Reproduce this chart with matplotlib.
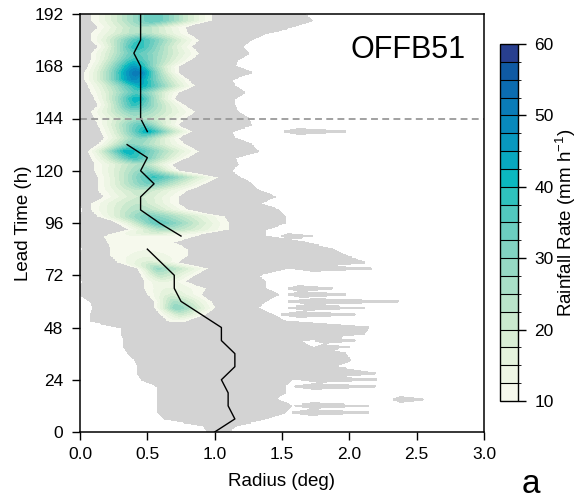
import numpy as np
import matplotlib
matplotlib.use("Agg")
import matplotlib.pyplot as plt
from matplotlib.colors import ListedColormap, BoundaryNorm
from matplotlib.cm import ScalarMappable

plt.rcParams['font.family'] = ['Liberation Sans', 'DejaVu Sans']
plt.rcParams['mathtext.fontset'] = 'custom'
plt.rcParams['mathtext.rm'] = 'Liberation Sans'
plt.rcParams['mathtext.default'] = 'regular'

# ---- light rain (gray) area, every 3 h from 0 to 192 h, radius in deg
hours = np.arange(0, 193, 3)
gray_in = [0.95, 0.92, 0.63, 0.58, 0.58, 0.58, 0.58, 0.58,
           0.46, 0.43, 0.43, 0.41, 0.36, 0.33, 0.33, 0.31,
           0.31, 0.08, 0.08, 0.10, 0.08, 0.00, 0.00, 0.02,
           0.00, 0.00, 0.00, 0.00, 0.02, 0.00, 0.00, 0.00,
           0.00, 0.00, 0.03, 0.00, 0.00, 0.00, 0.00, 0.00,
           0.00, 0.00, 0.00, 0.00, 0.00, 0.00, 0.00, 0.00,
           0.00, 0.00, 0.00, 0.00, 0.00, 0.00, 0.00, 0.00,
           0.00, 0.00, 0.00, 0.00, 0.00, 0.00, 0.00, 0.00,
           0.00]
gray_out = [1.10, 1.16, 1.37, 1.52, 1.57, 1.45, 1.52, 1.52,
            1.57, 2.19, 1.87, 2.01, 1.97, 1.72, 1.62, 2.11,
            2.14, 1.52, 1.42, 1.32, 1.37, 1.47, 1.37, 1.37,
            1.32, 1.52, 2.11, 1.97, 1.87, 1.67, 1.37, 1.37,
            1.52, 1.52, 1.47, 1.32, 1.45, 1.32, 1.27, 1.18,
            1.12, 1.17, 1.15, 1.32, 1.27, 1.15, 1.12, 1.27,
            1.25, 1.17, 1.15, 1.15, 1.22, 1.15, 1.12, 1.27,
            1.15, 1.17, 1.25, 1.20, 1.27, 1.37, 1.57, 1.72,
            1.67]

# detached outer rain streaks
strip_t = [9, 12, 15, 21, 24, 39, 42, 54, 57, 60, 63, 66, 75, 90, 138]
strip_in = [1.58, 1.60, 2.33, 1.60, 1.65, 1.75, 1.75, 1.50, 1.55, 1.55, 1.55, 1.55, 1.60, 1.50, 1.52]
strip_out = [2.14, 2.14, 2.55, 2.19, 2.20, 2.00, 2.04, 2.04, 2.11, 2.36, 1.97, 1.87, 2.16, 1.72, 1.97]

# ---- heavy rain core (>10 mm/h), every 3 h from 51 to 192 h
core_hours = np.arange(51, 193, 3)
core_in = [0.65, 0.60, 0.555, 0.555, 0.505, 0.48, 0.48, 0.455,
           0.43, 0.28, 0.23, 0.23, 0.21, 0.18, 0.36, 0.28,
           0.134, 0.084, 0.084, 0.18, 0.134, 0.134, 0.134, 0.11,
           0.11, 0.084, 0.06, 0.134, 0.18, 0.158, 0.134, 0.11,
           0.084, 0.134, 0.11, 0.084, 0.06, 0.035, 0.035, 0.06,
           0.084, 0.084, 0.134, 0.084, 0.084, 0.134, 0.084, 0.084]
core_out = [0.80, 0.93, 1.00, 0.975, 0.90, 0.93, 0.78, 0.85,
            0.95, 0.73, 0.80, 0.80, 0.70, 0.85, 1.10, 1.10,
            1.07, 0.80, 0.73, 0.73, 0.80, 0.93, 1.025, 0.73,
            0.68, 0.80, 0.88, 0.78, 0.73, 0.83, 0.73, 0.78,
            0.85, 0.78, 0.70, 0.73, 0.85, 0.80, 0.73, 0.73,
            0.83, 0.88, 0.83, 0.88, 0.80, 0.78, 0.98, 0.98]
core_r = [0.72, 0.75, 0.72, 0.70, 0.68, 0.65, 0.62, 0.60,
          0.58, 0.52, 0.50, 0.48, 0.45, 0.50, 0.62, 0.58,
          0.50, 0.45, 0.42, 0.45, 0.45, 0.50, 0.55, 0.50,
          0.45, 0.40, 0.35, 0.38, 0.45, 0.50, 0.45, 0.42,
          0.40, 0.40, 0.42, 0.42, 0.45, 0.40, 0.42, 0.40,
          0.40, 0.42, 0.42, 0.45, 0.45, 0.45, 0.55, 0.55]
core_max = [11, 20, 30, 25, 18, 15, 15, 22,
            28, 18, 14, 12, 12, 12, 25, 35,
            32, 25, 22, 20, 22, 32, 38, 30,
            25, 38, 42, 30, 30, 42, 35, 25,
            30, 38, 42, 35, 42, 48, 52, 45,
            38, 35, 40, 38, 25, 25, 35, 35]

# ---- radius of max wind
rmw_t = [0, 6, 12, 18, 24, 30, 36, 42, 48, 54, 60, 66, 72, 78, 84, 87,
         90, 96, 102, 108, 114, 120, 126, 132, 135,
         138, 144, 150, 156, 162, 168, 174, 180, 186, 192]
rmw_r = [1.00, 1.15, 1.10, 1.10, 1.05, 1.15, 1.15, 1.05, 1.05, 0.90, 0.75, 0.70, 0.70, 0.60, 0.50, np.nan,
         0.75, 0.59, 0.45, 0.45, 0.55, 0.45, 0.50, 0.35, np.nan,
         0.50, 0.45, 0.45, 0.45, 0.45, 0.45, 0.40, 0.45, 0.45, 0.45]

levels = [10, 12.5, 15, 17.5, 20, 22.5, 25, 27.5, 30, 32.5, 35,
          37.5, 40, 42.5, 45, 47.5, 50, 52.5, 55, 57.5, 60]
colors = ['#f6f9ed', '#eef6e5', '#e5f3dd', '#d9eed5', '#cae9ce', '#bae4ca', '#a9dfc7',
          '#96d9c4', '#82d3c2', '#6ccdc0', '#52c8be', '#2fc2bd', '#0bb8c0', '#08a8c0',
          '#0898bf', '#0889bc', '#0a7cb8', '#0b6cb0', '#0f5aa3', '#283f8f']

# build the field
r = np.arange(0, 3.0001, 0.005)
t = np.arange(0, 192.001, 0.5)
R, T = np.meshgrid(r, t)

gin = np.interp(t, hours, gray_in)[:, None]
gout = np.interp(t, hours, gray_out)[:, None]
rain = np.where((R >= gin) & (R <= gout), 5.0, 0.0)
for st, a, b in zip(strip_t, strip_in, strip_out):
    for i in np.where(np.abs(t - st) <= 1.5)[0]:
        f = 1 - abs(t[i] - st) / 1.5
        hi = a + (b - a) * f
        lo = a + (b - a) * (1 - f) * 0.3
        rain[i] = np.where((r >= lo) & (r <= hi), 5.0, rain[i])

ci = np.interp(t, core_hours, core_in)[:, None]
co = np.interp(t, core_hours, core_out)[:, None]
cr = np.interp(t, core_hours, core_r)[:, None]
cm = np.interp(t, core_hours, core_max, left=0)[:, None]
x = np.where(R < cr, (cr - R) / (cr - ci), (R - cr) / (co - cr))
cm_safe = np.maximum(cm, 10.01)
core = cm_safe * (10.0 / cm_safe) ** (x ** 1.5)
core = np.where((x <= 1) & (cm > 10), core, 0)
rain = np.maximum(rain, core)

fig = plt.figure(figsize=(5.79, 5.04), dpi=100)
ax = fig.add_axes([80 / 579, 72 / 504, 404 / 579, 418 / 504])

ax.contourf(R, T, rain, levels=[1] + levels, colors=['#d3d3d3'] + colors)
ax.plot(rmw_r, rmw_t, color='black', lw=1.0)
ax.axhline(144, color='#9a9a9a', lw=1.3, ls=(0, (3.8, 2.4)))

ax.set_xlim(0, 3)
ax.set_ylim(0, 192)
ax.set_xticks(np.arange(0, 3.01, 0.5))
ax.set_xticklabels(['0.0', '0.5', '1.0', '1.5', '2.0', '2.5', '3.0'])
ax.set_yticks(np.arange(0, 193, 24))
ax.tick_params(direction='out', length=6, width=1, labelsize=12.5, pad=5)
ax.tick_params(axis='y', pad=6)
for s in ax.spines.values():
    s.set_linewidth(1.1)
ax.set_xlabel('Radius (deg)', fontsize=13.5)
ax.set_ylabel('Lead Time (h)', fontsize=13.5)
ax.xaxis.set_label_coords(0.5, -0.097)
ax.yaxis.set_label_coords(-0.12, 0.5)

ax.text(0.955, 0.914, 'OFFB51', transform=ax.transAxes, ha='right', va='center', fontsize=22)
fig.text(531 / 579, 11 / 504, 'a', ha='center', va='baseline', fontsize=24)

cax = fig.add_axes([500 / 579, 103 / 504, 17.5 / 579, 357 / 504])
norm = BoundaryNorm(levels, len(colors))
cb = fig.colorbar(ScalarMappable(norm=norm, cmap=ListedColormap(colors)), cax=cax,
                  ticks=range(10, 61, 10), drawedges=True)
cb.outline.set_linewidth(1.0)
cb.dividers.set_linewidth(0.8)
cb.ax.tick_params(length=6, width=1, labelsize=12.5, pad=6)
cb.set_label('Rainfall Rate (mm h$^{-1}$)', fontsize=13.5)
cb.ax.yaxis.set_label_coords(3.1, 0.5)

fig.savefig('out.png', dpi=100)
